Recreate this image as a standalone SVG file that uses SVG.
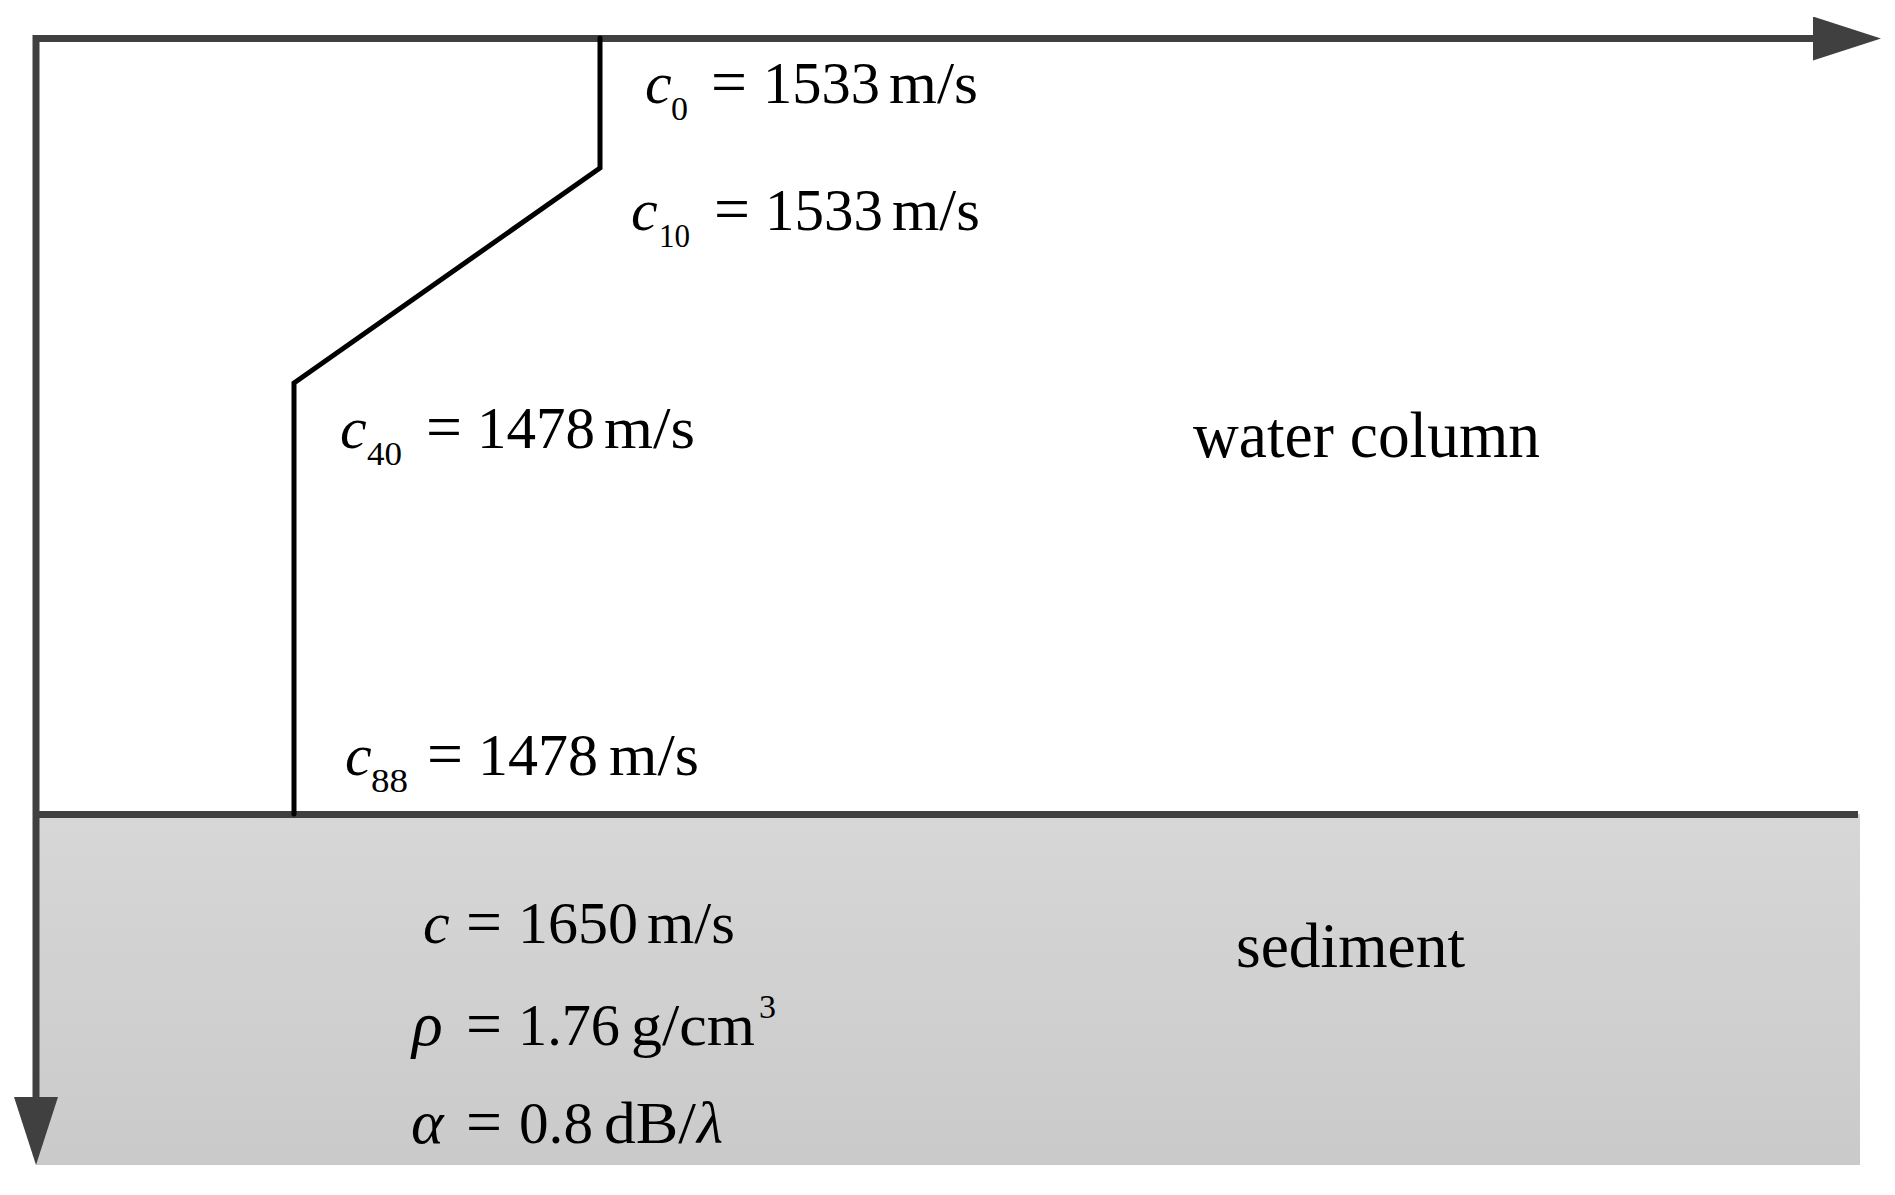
<svg xmlns="http://www.w3.org/2000/svg" width="1895" height="1195" viewBox="0 0 1895 1195">
<style>
.t{font-family:"Liberation Serif","Times New Roman",serif;fill:#000}
.m{font-size:60px}
.s{font-size:34px}
.i{font-style:italic}
.eq{font-size:64px}
.ax{stroke:#404040;stroke-width:7;fill:none}
</style>
<defs>
<linearGradient id="sed" x1="0" y1="0" x2="0" y2="1">
<stop offset="0" stop-color="#d7d7d7"/>
<stop offset="1" stop-color="#cacaca"/>
</linearGradient>
<marker id="ah" markerUnits="userSpaceOnUse" markerWidth="70" markerHeight="46" refX="0" refY="22" orient="auto-start-reverse" viewBox="0 0 70 46">
<path d="M0,0 L68,22 L0,44 Z" fill="#404040"/>
</marker>
</defs>
<rect width="1895" height="1195" fill="#fff"/>
<g id="sediment-layer">
<rect x="36" y="814" width="1824" height="351" fill="url(#sed)"/>
</g>
<g id="connectors">
<path class="ax" d="M36,1097 V38.5 H1813" marker-start="url(#ah)" marker-end="url(#ah)"/>
<line class="ax" x1="36" y1="814.5" x2="1858" y2="814.5"/>
<polyline points="600,38 600,168 294,383 294,814" fill="none" stroke="#000" stroke-width="5" stroke-linejoin="miter" stroke-linecap="round"/>
</g>
<g id="c0" class="t">
<text class="m i" x="645" y="103">c</text>
<text class="s" x="671" y="120">0</text>
<text class="eq" x="711" y="103" textLength="36" lengthAdjust="spacingAndGlyphs">=</text>
<text class="m" x="763" y="103" textLength="117" lengthAdjust="spacingAndGlyphs">1533</text>
<text class="m" x="889" y="103" textLength="89" lengthAdjust="spacingAndGlyphs">m/s</text>
</g>
<g id="c10" class="t">
<text class="m i" x="631" y="230">c</text>
<text class="s" x="659" y="247" textLength="31" lengthAdjust="spacingAndGlyphs">10</text>
<text class="eq" x="714" y="230" textLength="36" lengthAdjust="spacingAndGlyphs">=</text>
<text class="m" x="765" y="230" textLength="118" lengthAdjust="spacingAndGlyphs">1533</text>
<text class="m" x="892" y="230" textLength="88" lengthAdjust="spacingAndGlyphs">m/s</text>
</g>
<g id="c40" class="t">
<text class="m i" x="340" y="448">c</text>
<text class="s" x="367" y="465" textLength="35" lengthAdjust="spacingAndGlyphs">40</text>
<text class="eq" x="426" y="448" textLength="36" lengthAdjust="spacingAndGlyphs">=</text>
<text class="m" x="477" y="448" textLength="118" lengthAdjust="spacingAndGlyphs">1478</text>
<text class="m" x="604" y="448" textLength="91" lengthAdjust="spacingAndGlyphs">m/s</text>
</g>
<g id="c88" class="t">
<text class="m i" x="345" y="775">c</text>
<text class="s" x="371" y="792" textLength="37" lengthAdjust="spacingAndGlyphs">88</text>
<text class="eq" x="427" y="775" textLength="36" lengthAdjust="spacingAndGlyphs">=</text>
<text class="m" x="478" y="775" textLength="120" lengthAdjust="spacingAndGlyphs">1478</text>
<text class="m" x="609" y="775" textLength="90" lengthAdjust="spacingAndGlyphs">m/s</text>
</g>
<g id="water-column" class="t">
<text x="1193" y="457" font-size="66" textLength="347" lengthAdjust="spacingAndGlyphs">water column</text>
</g>
<g id="sediment" class="t">
<text x="1236" y="967" font-size="64" textLength="229" lengthAdjust="spacingAndGlyphs">sediment</text>
</g>
<g id="sediment-params" class="t">
<text class="m i" x="423" y="943">c</text>
<text class="eq" x="466" y="943" textLength="36" lengthAdjust="spacingAndGlyphs">=</text>
<text class="m" x="518" y="943" textLength="120" lengthAdjust="spacingAndGlyphs">1650</text>
<text class="m" x="647" y="943" textLength="88" lengthAdjust="spacingAndGlyphs">m/s</text>
<text class="i" x="412" y="1045" font-size="64">ρ</text>
<text class="eq" x="466" y="1045" textLength="36" lengthAdjust="spacingAndGlyphs">=</text>
<text class="m" x="518" y="1045" textLength="102" lengthAdjust="spacingAndGlyphs">1.76</text>
<text class="m" x="631" y="1045" textLength="124" lengthAdjust="spacingAndGlyphs">g/cm</text>
<text class="s" x="759" y="1018">3</text>
<text class="i" x="411" y="1143" font-size="62">α</text>
<text class="eq" x="466" y="1143" textLength="36" lengthAdjust="spacingAndGlyphs">=</text>
<text class="m" x="519" y="1143" textLength="74" lengthAdjust="spacingAndGlyphs">0.8</text>
<text class="m" x="604" y="1143" textLength="92" lengthAdjust="spacingAndGlyphs">dB/</text>
<text class="m i" x="697" y="1143">λ</text>
</g>
</svg>
